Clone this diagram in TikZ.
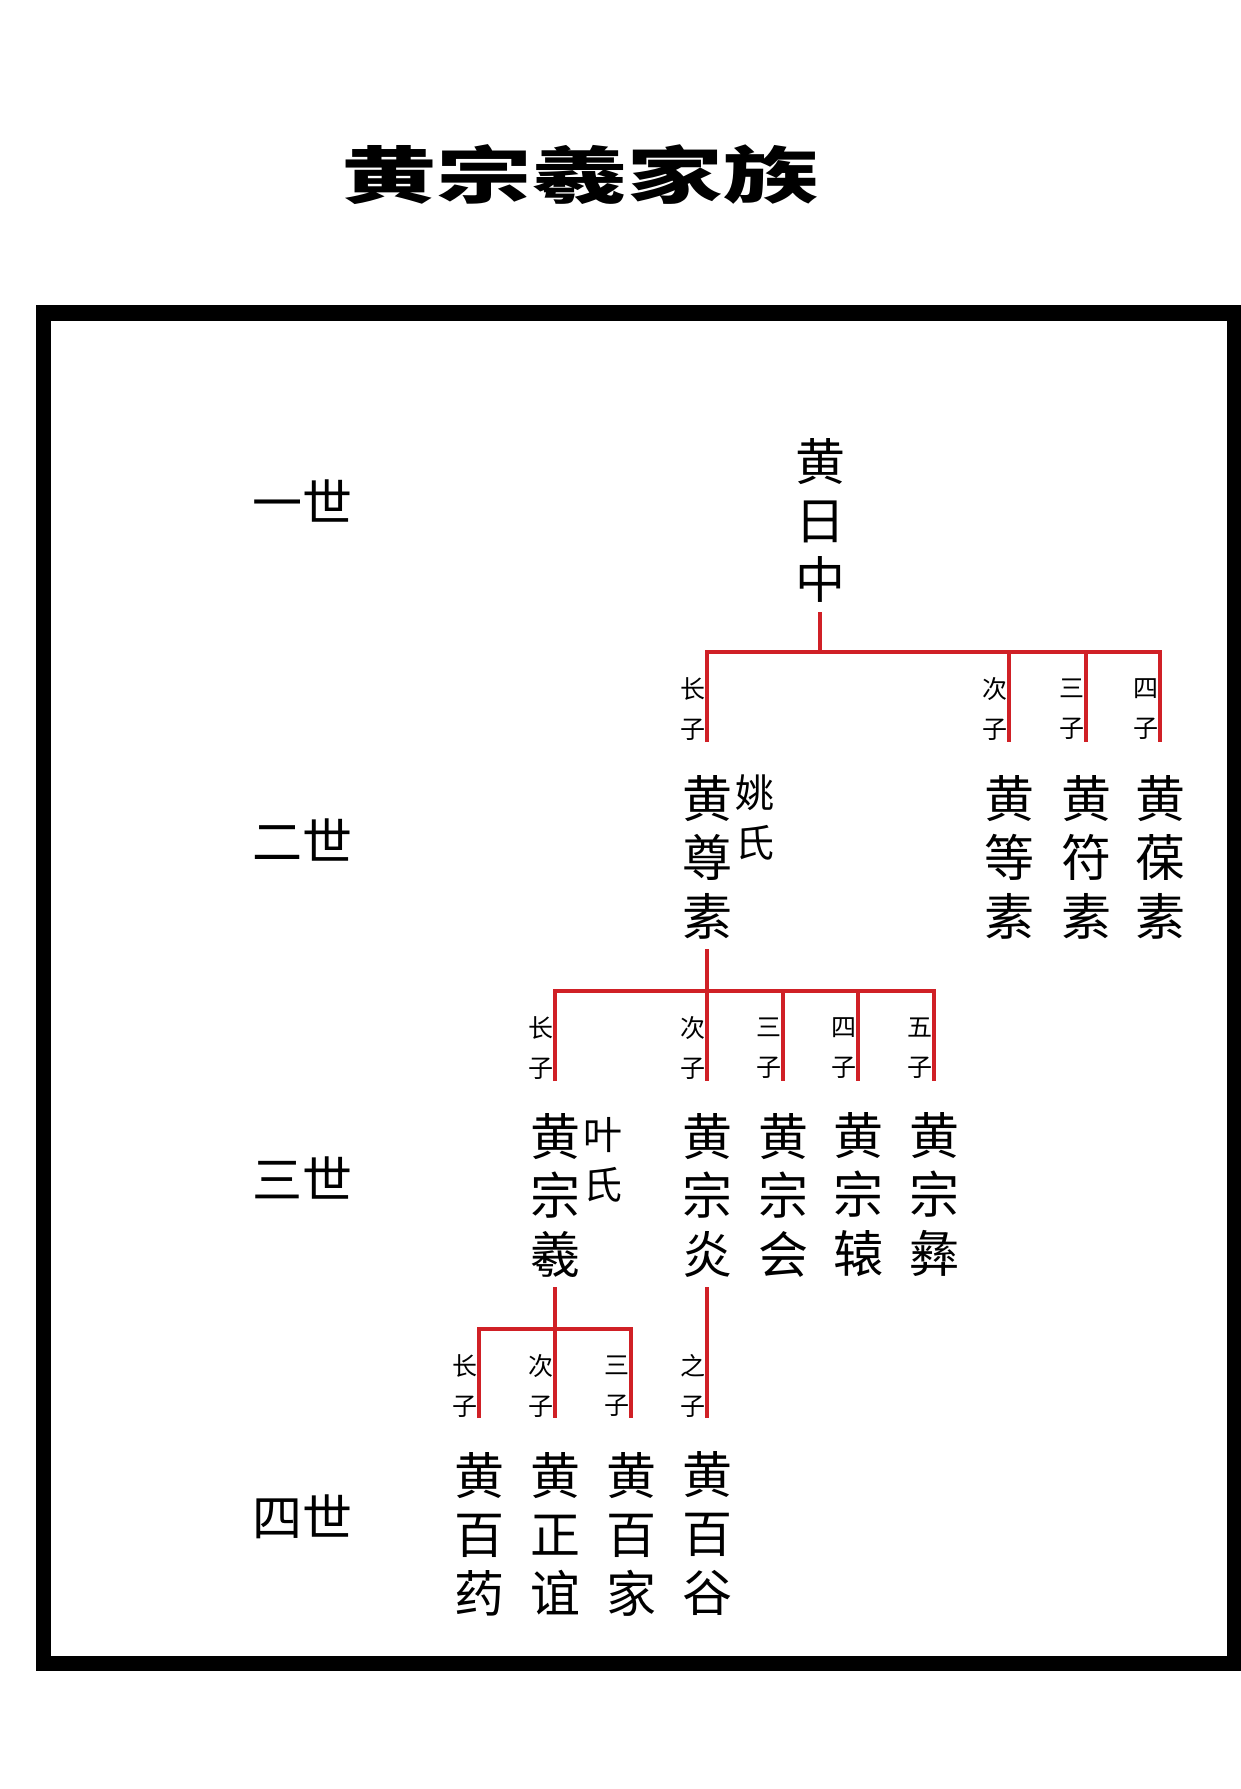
\documentclass[tikz,border=0pt]{standalone}
\usepackage{fontspec}
\newfontfamily\cjk{Noto Sans CJK SC}
\definecolor{linered}{RGB}{208,32,38}
\tikzset{
  link/.style={draw=linered, line width=4pt},
  namecol/.style={font=\cjk\fontsize{50}{59}\selectfont, align=center, inner sep=0pt},
  spouse/.style={font=\cjk\fontsize{39}{50}\selectfont, align=center, inner sep=0pt, anchor=north west},
  rank/.style={font=\cjk\fontsize{25}{40}\selectfont, align=center, inner sep=0pt, anchor=east},
  genlabel/.style={font=\cjk\fontsize{50}{60}\selectfont, inner sep=0pt},
}

\begin{document}
\begin{tikzpicture}[x=1pt, y=-1pt]
  \useasboundingbox (0,0) rectangle (1240,1789);
  \fill[white] (0,0) rectangle (1240,1789);

  \node[font=\cjk\bfseries\fontsize{62}{62}\selectfont, xscale=1.54, inner sep=0pt] (title) at (580,175) {黄宗羲家族};
  \draw[line width=15.5pt, line join=miter] (43.5,313) rectangle (1234.5,1663.5);

  % generations
  \node[genlabel] (gen1) at (302.5,501) {一世};
  \node[genlabel] (gen2) at (302.5,839.5) {二世};
  \node[genlabel] (gen3) at (302.5,1177.5) {三世};
  \node[genlabel] (gen4) at (302.5,1517) {四世};

  % first generation
  \node[namecol] (n1) at (820,520) {黄\\日\\中};

  \coordinate (b21) at (707,652);
  \coordinate (b22) at (1009,652);
  \coordinate (b23) at (1086,652);
  \coordinate (b24) at (1160,652);
  \coordinate (e21) at (707,742);
  \coordinate (e22) at (1009,742);
  \coordinate (e23) at (1086,742);
  \coordinate (e24) at (1160,742);

  \draw[link] ([yshift=-10pt]n1.south) -- (n1.south |- b21);
  \draw[link] (e21) -- (b21) -- (b24) -- (e24);
  \draw[link] (b22) -- (e22);
  \draw[link] (b23) -- (e23);

  \node[rank] (r21) at ([xshift=-1pt, yshift=-57pt]b21) {长\\子};
  \node[rank] (r22) at ([xshift=-1pt, yshift=-57pt]b22) {次\\子};
  \node[rank] (r23) at ([xshift=-1pt, yshift=-57pt]b23) {三\\子};
  \node[rank] (r24) at ([xshift=-1pt, yshift=-57pt]b24) {四\\子};

  % second generation
  \node[namecol] (n21) at (707,857) {黄\\尊\\素};
  \node[spouse] (s21) at ([xshift=3pt]n21.north east) {姚\\氏};
  \node[namecol] (n22) at (1009,857) {黄\\等\\素};
  \node[namecol] (n23) at (1086,857) {黄\\符\\素};
  \node[namecol] (n24) at (1160,857) {黄\\葆\\素};

  \coordinate (b31) at (555,991);
  \coordinate (b32) at (707,991);
  \coordinate (b33) at (783,991);
  \coordinate (b34) at (858,991);
  \coordinate (b35) at (934,991);
  \coordinate (e31) at (555,1081);
  \coordinate (e32) at (707,1081);
  \coordinate (e33) at (783,1081);
  \coordinate (e34) at (858,1081);
  \coordinate (e35) at (934,1081);

  \draw[link] ([yshift=-10pt]n21.south) -- (b32);
  \draw[link] (e31) -- (b31) -- (b35) -- (e35);
  \draw[link] (b32) -- (e32);
  \draw[link] (b33) -- (e33);
  \draw[link] (b34) -- (e34);

  \node[rank] (r31) at ([xshift=-1pt, yshift=-57pt]b31) {长\\子};
  \node[rank] (r32) at ([xshift=-1pt, yshift=-57pt]b32) {次\\子};
  \node[rank] (r33) at ([xshift=-1pt, yshift=-57pt]b33) {三\\子};
  \node[rank] (r34) at ([xshift=-1pt, yshift=-57pt]b34) {四\\子};
  \node[rank] (r35) at ([xshift=-1pt, yshift=-57pt]b35) {五\\子};

  % third generation
  \node[namecol] (n31) at (555,1195) {黄\\宗\\羲};
  \node[spouse] (s31) at ([xshift=3pt, yshift=-4pt]n31.north east) {叶\\氏};
  \node[namecol] (n32) at (707,1195) {黄\\宗\\炎};
  \node[namecol] (n33) at (783,1195) {黄\\宗\\会};
  \node[namecol] (n34) at (858,1195) {黄\\宗\\辕};
  \node[namecol] (n35) at (934,1195) {黄\\宗\\彝};

  \coordinate (b41) at (479,1329);
  \coordinate (b42) at (555,1329);
  \coordinate (b43) at (631,1329);
  \coordinate (b44) at (707,1329);
  \coordinate (e41) at (479,1418);
  \coordinate (e42) at (555,1418);
  \coordinate (e43) at (631,1418);
  \coordinate (e44) at (707,1418);

  \draw[link] ([yshift=-10pt]n31.south) -- (b42);
  \draw[link] (e41) -- (b41) -- (b43) -- (e43);
  \draw[link] (b42) -- (e42);
  \draw[link] ([yshift=-10pt]n32.south) -- (e44);

  \node[rank] (r41) at ([xshift=-1pt, yshift=-57pt]b41) {长\\子};
  \node[rank] (r42) at ([xshift=-1pt, yshift=-57pt]b42) {次\\子};
  \node[rank] (r43) at ([xshift=-1pt, yshift=-57pt]b43) {三\\子};
  \node[rank] (r44) at ([xshift=-1pt, yshift=-57pt]b44) {之\\子};

  % fourth generation
  \node[namecol] (n41) at (479,1534) {黄\\百\\药};
  \node[namecol] (n42) at (555,1534) {黄\\正\\谊};
  \node[namecol] (n43) at (631,1534) {黄\\百\\家};
  \node[namecol] (n44) at (707,1534) {黄\\百\\谷};
\end{tikzpicture}
\end{document}
